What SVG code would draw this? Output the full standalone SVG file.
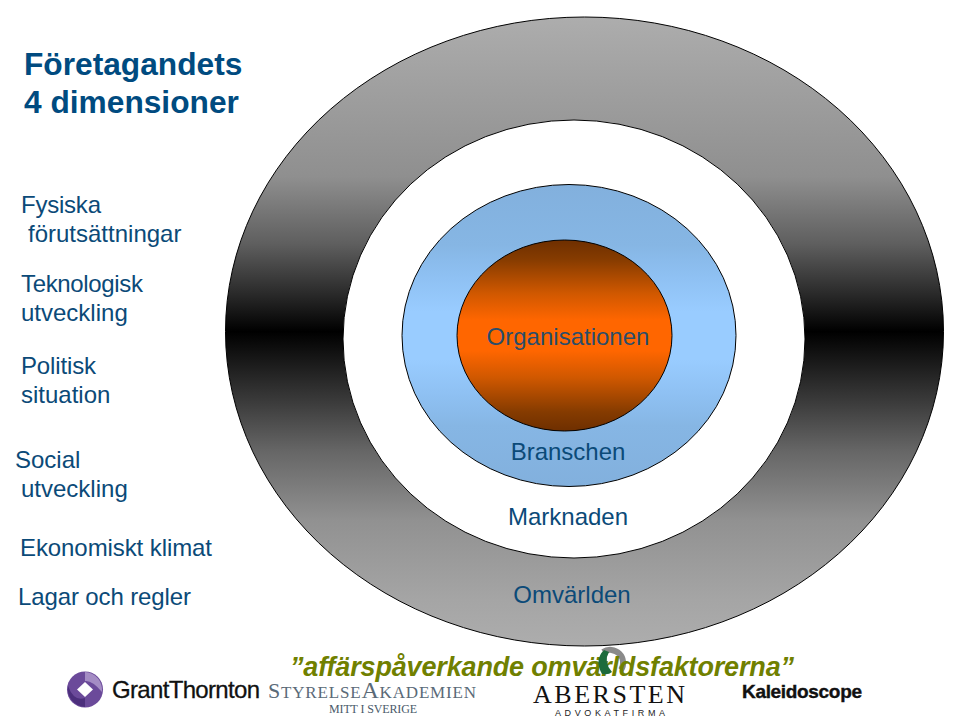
<svg xmlns="http://www.w3.org/2000/svg" width="960" height="720" viewBox="0 0 960 720">
<style>
text{font-family:"Liberation Sans",Arial,sans-serif}
.l{font-size:24px;fill:#0b4a78}
.c{font-size:24px;fill:#0b4a78;text-anchor:middle}
.t{font-size:31.700px;font-weight:bold;fill:#004b80}
.o{stroke:#000;stroke-width:1}
.s{font-family:"Liberation Serif",serif}
</style>
<defs>
<linearGradient id="g" x1="0" y1="0" x2="0" y2="1"><stop offset="0" stop-color="#adadad"/><stop offset="0.04" stop-color="#a8a8a8"/><stop offset="0.254" stop-color="#8f8f8f"/><stop offset="0.36" stop-color="#5f5f5f"/><stop offset="0.44" stop-color="#2a2a2a"/><stop offset="0.5" stop-color="#000"/><stop offset="0.61" stop-color="#3a3a3a"/><stop offset="0.69" stop-color="#666"/><stop offset="0.8" stop-color="#919191"/><stop offset="0.927" stop-color="#a5a5a5"/><stop offset="1" stop-color="#adadad"/></linearGradient>
<linearGradient id="b" x1="0" y1="0" x2="0" y2="1"><stop offset="0" stop-color="#82b0dd"/><stop offset="0.2" stop-color="#86b6e4"/><stop offset="0.3" stop-color="#8ec0f2"/><stop offset="0.42" stop-color="#99ccff"/><stop offset="0.58" stop-color="#99ccff"/><stop offset="0.7" stop-color="#8ec0f2"/><stop offset="0.8" stop-color="#86b6e4"/><stop offset="1" stop-color="#82b0dd"/></linearGradient>
<linearGradient id="r" x1="0" y1="0" x2="0" y2="1"><stop offset="0" stop-color="#6e2f00"/><stop offset="0.1" stop-color="#853b00"/><stop offset="0.28" stop-color="#d05800"/><stop offset="0.42" stop-color="#ff6600"/><stop offset="0.58" stop-color="#ff6600"/><stop offset="0.72" stop-color="#d05800"/><stop offset="0.9" stop-color="#853b00"/><stop offset="1" stop-color="#6e2f00"/></linearGradient>
</defs>
<rect width="960" height="720" fill="#fff"/>
<g id="omvarlden"><ellipse class="o" cx="584.500" cy="331.500" rx="359" ry="314.500" fill="url(#g)"/><text class="c" x="572" y="603">Omvärlden</text></g>
<g id="marknaden"><ellipse class="o" cx="574" cy="339" rx="231" ry="219" fill="#fff"/><text class="c" x="568" y="525">Marknaden</text></g>
<g id="branschen"><ellipse class="o" cx="569" cy="335.500" rx="167" ry="151" fill="url(#b)"/><text class="c" x="568" y="460">Branschen</text></g>
<g id="organisationen"><ellipse class="o" cx="564.500" cy="335.500" rx="107.500" ry="95.500" fill="url(#r)"/><text class="c" x="568" y="345" fill-opacity="0.9">Organisationen</text></g>
<g id="title"><text class="t" x="24" y="75">Företagandets</text><text class="t" x="24" y="113">4 dimensioner</text></g>
<g id="dimensions">
<text class="l" x="21" y="213" textLength="80">Fysiska</text><text class="l" x="28" y="242">förutsättningar</text>
<text class="l" x="21" y="292" textLength="122">Teknologisk</text><text class="l" x="21" y="321">utveckling</text>
<text class="l" x="21" y="374" textLength="75">Politisk</text><text class="l" x="21" y="403">situation</text>
<text class="l" x="15" y="468">Social</text><text class="l" x="21" y="497">utveckling</text>
<text class="l" x="20" y="556" textLength="192">Ekonomiskt klimat</text>
<text class="l" x="18" y="605" textLength="173">Lagar och regler</text>
</g>
<g id="logos">
<circle cx="85" cy="689.500" r="18" fill="#6b4a9a"/>
<path d="M85 672 A18 18 0 0 1 102 692 Q92 680 85 681Z" fill="#a48cc4"/>
<path d="M68 686 Q74 702 85 698 L85 707 A18 18 0 0 1 68 686Z" fill="#4c2f7c"/>
<path d="M85 682 L93 689.500 L85 697 L77 689.500Z" fill="#fff"/>
<text x="112" y="698" font-size="24" fill="#111" stroke="#111" stroke-width="0.3" textLength="148">GrantThornton</text>
<text class="s" x="268" y="698" fill="#5a6a78" textLength="208"><tspan font-size="22">S</tspan><tspan font-size="17">TYRELSE</tspan><tspan font-size="24">A</tspan><tspan font-size="17">KADEMIEN</tspan></text>
<text class="s" x="329" y="713" font-size="12" fill="#4a5a6a" textLength="88">MITT I SVERIGE</text>
<text class="s" x="533" y="703" font-size="26" fill="#111" textLength="152">ABERSTEN</text>
<text x="555" y="716" font-size="9" fill="#222" textLength="110">ADVOKATFIRMA</text>
<text x="742" y="698" font-size="19" font-weight="bold" fill="#111" stroke="#111" stroke-width="0.4" textLength="120">Kaleidoscope</text>
<path d="M603 652 A13 13 0 0 1 621 670" fill="none" stroke="#8a8a8a" stroke-width="6"/>
</g>
<g id="caption"><text x="290" y="676" font-size="27" font-weight="bold" font-style="italic" fill="#708000" textLength="504">”affärspåverkande omvärldsfaktorerna”</text></g>
<g id="leaf"><path d="M604 650 Q594 660 602 674 Q609 675 612 672 Q603 662 609 652Z" fill="#1c6b3c"/></g>
</svg>
